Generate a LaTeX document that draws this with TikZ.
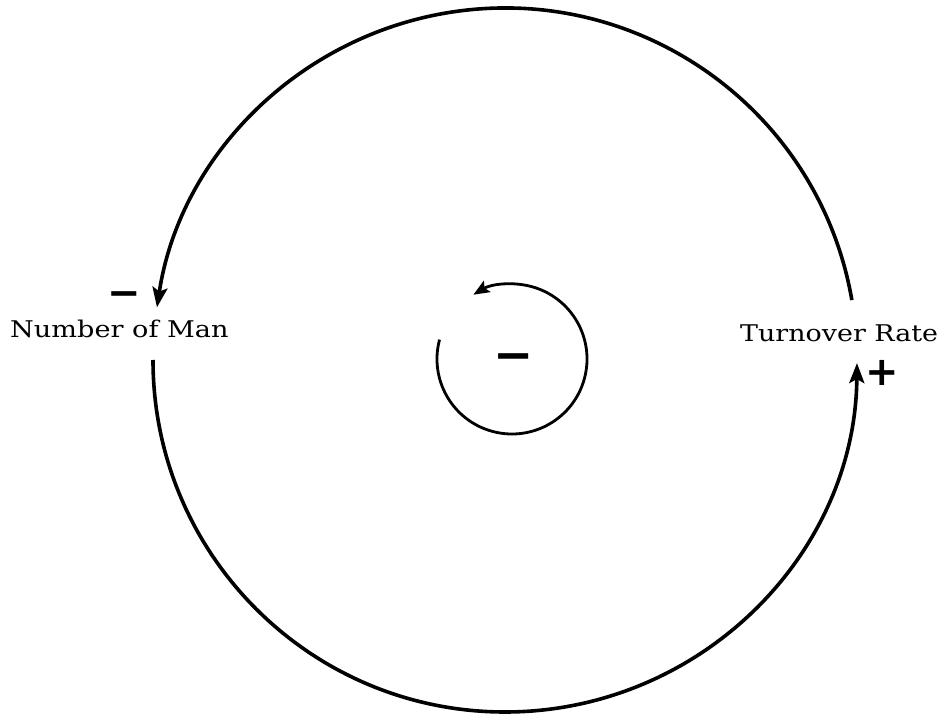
\documentclass[tikz,border=0pt]{standalone}
\usepackage{fontspec}
\setmainfont{DejaVu Serif}
\newfontfamily\signfont{DejaVu Sans}
\usetikzlibrary{arrows.meta}
\begin{document}
\begin{tikzpicture}[x=1pt,y=1pt,
  bigloop/.style={line width=3.6pt,-{Stealth[length=20pt,width=15pt,inset=4pt]}},
  smallloop/.style={line width=2.8pt,-{Stealth[length=16pt,width=13pt,inset=3pt]}},
  lbl/.style={font=\fontsize{23}{27}\selectfont, inner sep=0pt, anchor=base west},
  sign/.style={font=\signfont\bfseries\fontsize{40}{40}\selectfont, inner sep=0pt},
  bigsign/.style={font=\signfont\bfseries\fontsize{48}{48}\selectfont, inner sep=0pt}]
\useasboundingbox (0,0) rectangle (941,715);
\coordinate (O) at (505,355);
\coordinate (c) at (512,356);
\coordinate (topstart) at ([shift={(9.8:352)}]O);
\coordinate (botstart) at ([shift={(180:352)}]O);
\coordinate (smallstart) at ([shift={(165:75)}]c);
\node[lbl] (nman) at (10,377) {\scalebox{1.18}[1]{Number of Man}};
\node[lbl] (trate) at (740,373) {\scalebox{1.17}[1]{Turnover Rate}};
\draw[bigloop] (topstart) arc[start angle=9.8, end angle=171.4, radius=352];
\draw[bigloop] (botstart) arc[start angle=180, end angle=359.5, radius=352];
\draw[smallloop] (smallstart) arc[start angle=165, end angle=481, radius=75];
\node[sign] (mleft) at (124,416) {−};
\node[sign] (pright) at (882,342) {+};
\node[bigsign] (mcenter) at (514,352) {−};
\end{tikzpicture}
\end{document}
